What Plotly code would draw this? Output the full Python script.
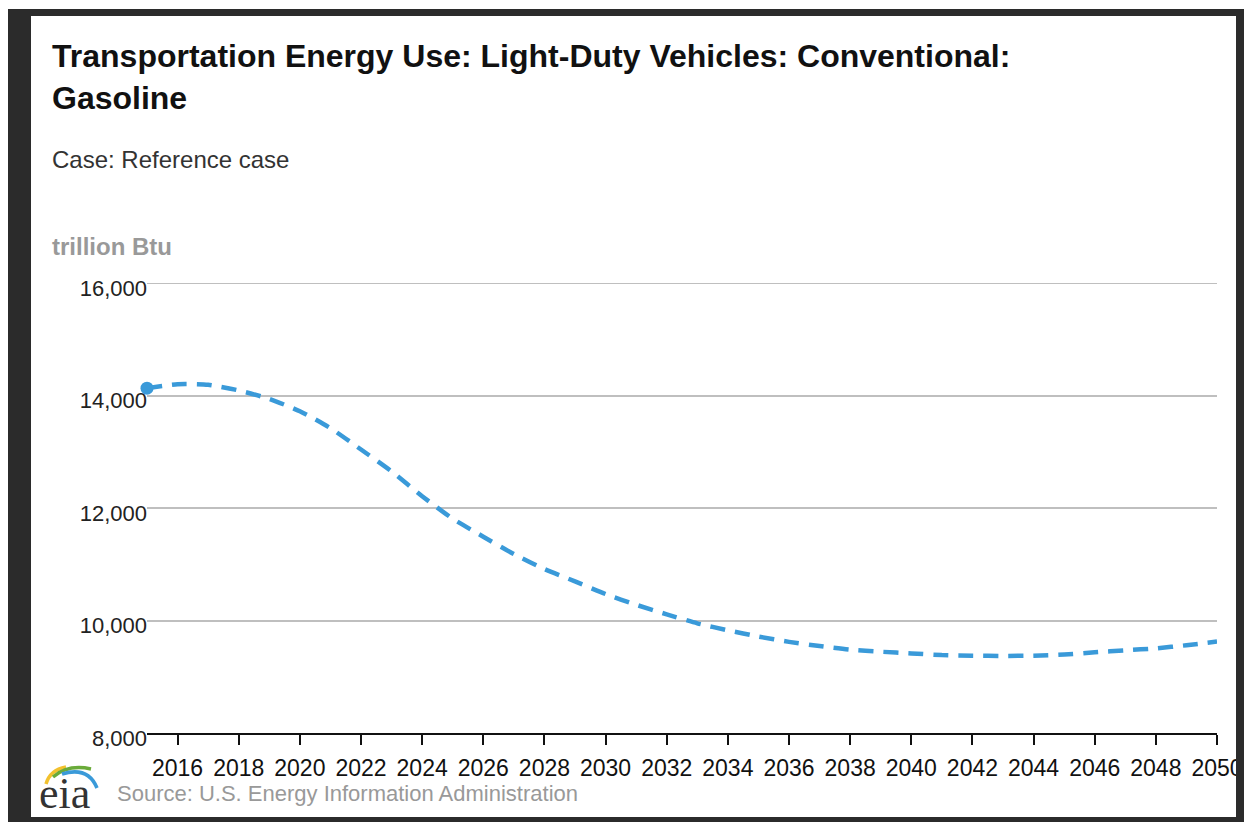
import plotly.graph_objects as go

# Annual light-duty gasoline energy use, trillion Btu (Reference case)
years = list(range(2015, 2051))
gasoline_use = [
    14130, 14200, 14190, 14090, 13940, 13720, 13420, 13040, 12650, 12210,
    11810, 11490, 11180, 10915, 10695, 10470, 10280, 10110, 9950, 9825,
    9715, 9620, 9545, 9480, 9445, 9415, 9385, 9375, 9370, 9375,
    9395, 9435, 9470, 9505, 9560, 9625,
]
x_ticks = list(range(2016, 2051, 2))
y_ticks = [8000, 10000, 12000, 14000, 16000]

title_text = "Transportation Energy Use: Light-Duty Vehicles: Conventional:<br>Gasoline"
subtitle_text = "Case: Reference case"
unit_text = "trillion Btu"
source_text = "Source: U.S. Energy Information Administration"

W, H = 1244, 822
ML, MR, MT, MB = 147, 27, 283, 89
PW, PH = W - ML - MR, H - MT - MB


def px(x):
    return (x - ML) / PW


def py(y):
    return (H - MB - y) / PH


BLUE = "#3a9ad9"
GRID = "#bfbfbf"
FONT = "Liberation Sans, Arial, sans-serif"

fig = go.Figure()
fig.add_trace(go.Scatter(
    x=years, y=gasoline_use, mode="lines",
    line=dict(color=BLUE, width=4.5, dash="15px,10px", shape="spline", smoothing=0.6),
    hoverinfo="skip", showlegend=False,
))
fig.add_trace(go.Scatter(
    x=years[:1], y=gasoline_use[:1], mode="markers",
    marker=dict(color=BLUE, size=13), cliponaxis=False,
    hoverinfo="skip", showlegend=False,
))

annotations = [
    dict(text="<b>" + title_text + "</b>", x=px(50), y=py(36), xanchor="left", yanchor="top",
         align="left", font=dict(family=FONT, size=32, color="#111111")),
    dict(text=subtitle_text, x=px(50), y=py(160), xanchor="left", yanchor="middle",
         font=dict(family=FONT, size=24, color="#333333")),
    dict(text="<b>" + unit_text + "</b>", x=px(50), y=py(246), xanchor="left", yanchor="middle",
         font=dict(family=FONT, size=24, color="#999999")),
    dict(text=source_text, x=px(115), y=py(793), xanchor="left", yanchor="middle",
         font=dict(family=FONT, size=22, color="#999999")),
    dict(text="eia", x=px(37), y=py(793), xanchor="left", yanchor="middle",
         font=dict(family="Liberation Serif, DejaVu Serif, serif", size=44, color="#333333")),
]
for a in annotations:
    a.update(xref="paper", yref="paper", showarrow=False)


def rect(x0, y0, x1, y1, color):
    return dict(type="rect", xref="paper", yref="paper", layer="above",
                x0=px(x0), x1=px(x1), y0=py(y1), y1=py(y0),
                line=dict(width=0), fillcolor=color)


def arc(points, color, width):
    (x0, y0), (cx, cy), (x1, y1) = points
    path = f"M {px(x0)},{py(y0)} Q {px(cx)},{py(cy)} {px(x1)},{py(y1)}"
    return dict(type="path", xref="paper", yref="paper", layer="above", path=path,
                line=dict(color=color, width=width))


DARK = "#2b2b2b"
shapes = [
    # top gridline at the upper range limit
    dict(type="line", xref="paper", yref="y", x0=0, x1=1, y0=y_ticks[-1], y1=y_ticks[-1],
         layer="below", line=dict(color=GRID, width=2)),
    rect(8, 9, W, 16, DARK),
    rect(8, 9, 31, H, DARK),
    rect(1236, 9, W, H, DARK),
    rect(8, 817, W, H, DARK),
    # eia logo swooshes
    arc([(46, 784), (50, 770), (66, 767)], "#f2c12e", 3.5),
    arc([(53, 777), (68, 764), (91, 769)], "#6aab3a", 3.5),
    arc([(62, 774), (88, 766), (97, 788)], "#3a9ad9", 3.5),
]

fig.update_layout(
    width=W, height=H,
    margin=dict(l=ML, r=MR, t=MT, b=MB, pad=0, autoexpand=False),
    paper_bgcolor="white", plot_bgcolor="white",
    annotations=annotations, shapes=shapes,
    showlegend=False,
    xaxis=dict(
        range=[2015, 2050], tickvals=x_ticks, ticktext=[str(v) for v in x_ticks],
        showgrid=False, zeroline=False,
        showline=True, linecolor="#111111", linewidth=2,
        ticks="outside", ticklen=10, tickwidth=2, tickcolor="#111111",
        ticklabelstandoff=3,
        tickfont=dict(family=FONT, size=23, color="#111111"),
    ),
    yaxis=dict(
        range=[8000, 16000], tickvals=y_ticks, tickformat=",",
        showgrid=True, gridcolor=GRID, gridwidth=2,
        zeroline=False, showline=False, ticks="",
        ticklabelstandoff=-1, ticklabelshift=5,
        tickfont=dict(family=FONT, size=22, color="#222222"),
    ),
)

fig.write_html("out.html")
